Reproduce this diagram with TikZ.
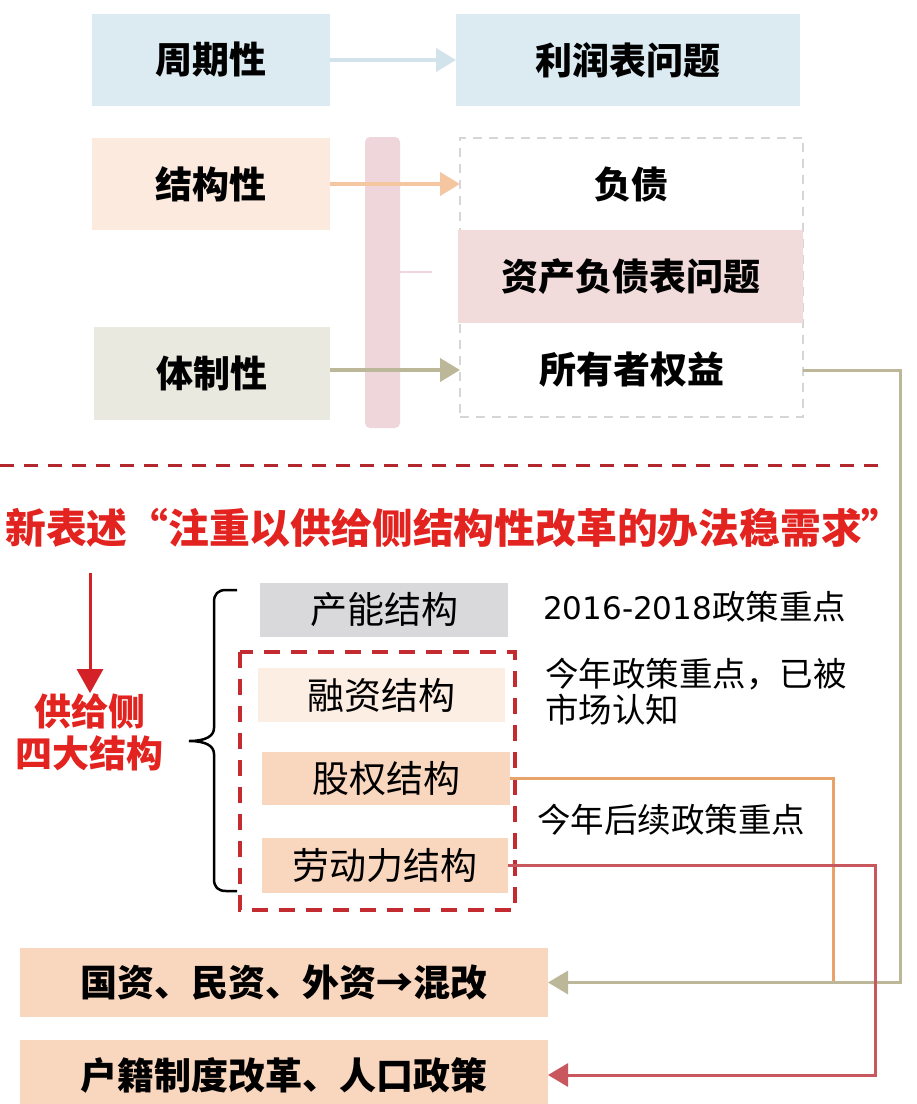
\documentclass[tikz,border=0pt]{standalone}
\usepackage{fontspec}
\newfontfamily\cjk{Noto Sans CJK SC}[BoldFont={Noto Sans CJK SC Black}]
\newfontfamily\digitfont{DejaVu Sans}
\usetikzlibrary{arrows.meta,fit}
\definecolor{cblue}{HTML}{DCEAF2}
\definecolor{cbluearr}{HTML}{D3E3EC}
\definecolor{cpeach}{HTML}{FCEADE}
\definecolor{cpeacharr}{HTML}{F5C7A0}
\definecolor{cbar}{HTML}{EFD6DA}
\definecolor{cband}{HTML}{F1DCDB}
\definecolor{cgraydash}{HTML}{D6D6D6}
\definecolor{cbeige}{HTML}{EAE9E0}
\definecolor{colive}{HTML}{BDB799}
\definecolor{cdashred}{HTML}{B3282D}
\definecolor{ctitle}{HTML}{E2231F}
\definecolor{cgray}{HTML}{D9D9DB}
\definecolor{clpeach}{HTML}{FDEEE4}
\definecolor{cmpeach}{HTML}{F9D6BE}
\definecolor{cboxred}{HTML}{C42B30}
\definecolor{corange}{HTML}{E8A36A}
\definecolor{credline}{HTML}{C8585E}
\definecolor{cdownarr}{HTML}{D42027}
\begin{document}
\begin{tikzpicture}[x=1pt,y=-1pt,
  bigtxt/.style={font=\cjk\bfseries\fontsize{37}{40}\selectfont, text=black},
  midtxt/.style={font=\cjk\fontsize{37}{40}\selectfont, text=black},
  notetxt/.style={font=\cjk\fontsize{33.5}{36}\selectfont, text=black},
  boxbase/.style={inner sep=0pt, outer sep=0pt, minimum width=#1},
  tip/.style={-{Triangle[length=20pt,width=23pt]}},
  conn/.style={line width=3pt},
  topconn/.style={line width=4pt}
]
\useasboundingbox[fill=white] (0,0) rectangle (917,1104);

% top section
\node[boxbase=238pt, minimum height=92pt, fill=cblue, bigtxt] (zq) at (211,60) {周期性};
\node[boxbase=344pt, minimum height=92pt, fill=cblue, bigtxt] (lr) at (628,60) {利润表问题};
\node[boxbase=238pt, minimum height=92pt, fill=cpeach, bigtxt] (jg) at (211,184) {结构性};
\node[boxbase=236pt, minimum height=93pt, fill=cbeige, bigtxt] (tz) at (212,373.5) {体制性};

\fill[cbar, rounded corners=5pt] (365,137) rectangle (400,428);
\draw[cbar, line width=2pt] (400,272) -- (432,272);

\node[boxbase=343pt, minimum height=93pt, bigtxt] (fz) at (631.5,184) {负债};
\node[boxbase=345pt, minimum height=93pt, fill=cband, bigtxt] (zc) at (630.5,276.5) {资产负债表问题};
\node[boxbase=343pt, minimum height=94pt, bigtxt] (sy) at (631.5,370) {所有者权益};
\node[draw=cgraydash, dashed, dash pattern=on 9pt off 7pt, line width=2pt, inner sep=0pt, fit=(fz)(sy)] (ddbox) {};
\fill[cband] (458,230) rectangle (803,323);
\node[bigtxt] at (zc) {资产负债表问题};

\draw[topconn, cbluearr, tip] (zq.east) -- (lr.west);
\draw[topconn, cpeacharr, tip] (jg.east) -- (fz.west);
\draw[topconn, colive, tip] (tz.east |- sy.west) -- (sy.west);

% red dashed separator
\draw[cdashred, line width=3pt, dash pattern=on 14pt off 10pt] (0,465) -- (886,465);

\node[font=\cjk\bfseries\fontsize{40.8}{44}\selectfont, text=ctitle, anchor=west, inner sep=0pt] (ttl) at (5,528) {新表述“注重以供给侧结构性改革的办法稳需求”};

\node[font=\cjk\bfseries\fontsize{37}{42}\selectfont, text=ctitle, align=center, inner sep=0pt] (gj) at (90,732) {供给侧\\四大结构};
\coordinate (dtop) at (90,573);
\draw[line width=3pt, cdownarr, -{Triangle[length=24pt,width=26pt]}] (dtop) -- (gj.north);

% brace
\draw[line width=2.5pt, black] (237,590) -- (226,590) .. controls (218,590) and (214,594) .. (214,602) -- (214,728) .. controls (214,736) and (206,741) .. (189,741) .. controls (206,741) and (214,746) .. (214,754) -- (214,879) .. controls (214,887) and (218,891) .. (226,891) -- (237,891);

\node[boxbase=248pt, minimum height=54pt, fill=cgray, midtxt] (cn) at (384,610) {产能结构};
\draw[cboxred, line width=3.5pt, dash pattern=on 16pt off 11pt] (240,652) rectangle (515,910);
\node[boxbase=247pt, minimum height=54pt, fill=clpeach, midtxt] (rz) at (381.5,695) {融资结构};
\node[boxbase=248pt, minimum height=53pt, fill=cmpeach, midtxt] (gq) at (386,778.5) {股权结构};
\node[boxbase=246pt, minimum height=55pt, fill=cmpeach, midtxt] (ld) at (385,865.5) {劳动力结构};

\node[notetxt, anchor=west, inner sep=0pt] (n1) at (543,607) {{\digitfont\fontsize{31}{36}\selectfont 2016-2018}政策重点};
\node[notetxt, anchor=north west, align=left, inner sep=0pt] (n2) at (545,658) {今年政策重点，已被\\市场认知};
\node[notetxt, anchor=west, inner sep=0pt] (n3) at (537,820) {今年后续政策重点};

% bottom boxes
\node[boxbase=528pt, minimum height=69pt, fill=cmpeach, bigtxt] (gz) at (284,982.5) {国资、民资、外资→混改};
\node[boxbase=528pt, minimum height=70pt, fill=cmpeach, bigtxt] (hj) at (284,1075) {户籍制度改革、人口政策};

% connectors
\coordinate (oj) at (833,982.5);
\draw[conn, corange] (gq.east) -| (oj);
\draw[conn, colive, tip] (sy.east) -- ++(97,0) |- (gz.east);
\draw[conn, credline, tip] (ld.east) -- ++(367,0) |- (hj.east);
\end{tikzpicture}
\end{document}
